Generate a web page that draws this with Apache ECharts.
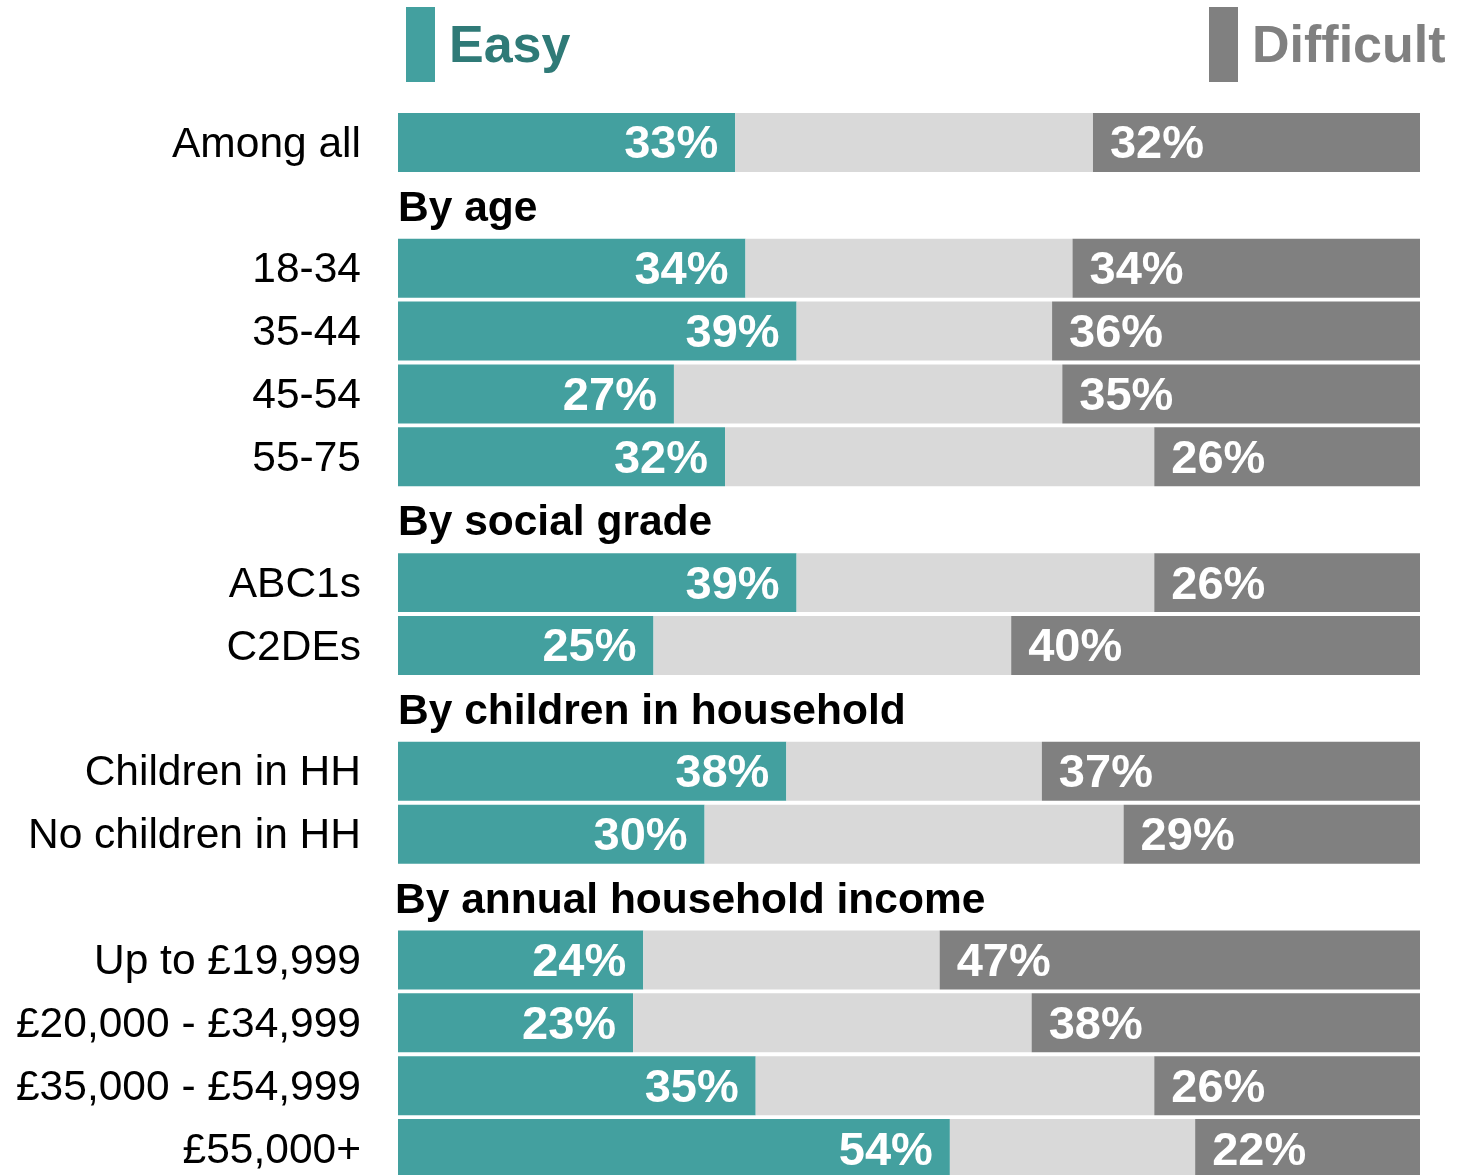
<!DOCTYPE html>
<html>
<head>
<meta charset="utf-8">
<script src="https://cdn.jsdelivr.net/npm/echarts@6/dist/echarts.min.js"></script>
<style>
html,body{margin:0;padding:0;background:#fff;}
#chart{width:1476px;height:1175px;}
</style>
</head>
<body>
<div id="chart"></div>
<script>
const categories = ['Among all','By age','18-34','35-44','45-54','55-75','By social grade','ABC1s','C2DEs','By children in household','Children in HH','No children in HH','By annual household income','Up to £19,999','£20,000 - £34,999','£35,000 - £54,999','£55,000+'];
const headers = ['By age','By social grade','By children in household','By annual household income'];
const easy = [33,null,34,39,27,32,null,39,25,null,38,30,null,24,23,35,54];
const difficult = [32,null,34,36,35,26,null,26,40,null,37,29,null,47,38,26,22];
const neutral = easy.map((e,i) => e == null ? null : 100 - e - difficult[i]);

const FONT = "'Liberation Sans', Arial, sans-serif";
const TEAL = '#43a09f';
const DARK = '#808080';
const LIGHT = '#d9d9d9';

const chart = echarts.init(document.getElementById('chart'), null, {renderer:'canvas'});
const valLabel = {
  show: true,
  color: '#ffffff',
  fontFamily: FONT,
  fontWeight: 'bold',
  fontSize: 47,
  distance: 17,
  offset: [0, 3],
  formatter: p => p.value == null ? '' : p.value + '%'
};
const headerLabel = {
  show: true, position: 'right', distance: 0,
  fontFamily: FONT, fontWeight: 'bold', fontSize: 42.5, color: '#000000',
  textBorderWidth: 0
};
const legendText = {fontFamily: FONT, fontWeight: 'bold', fontSize: 52, padding: 0};
chart.setOption({
  animation: false,
  grid: {left: 398, right: 56, top: 111, height: 1069, containLabel: false, outerBoundsMode: 'none'},
  legend: [
    {data: ['Easy'], left: 406, top: 7, padding: 0, icon: 'rect', itemWidth: 29, itemHeight: 75,
     formatter: n => '{t|' + n + '}',
     textStyle: Object.assign({color: '#2f7a77', rich: {t: Object.assign({color: '#2f7a77'}, legendText, {padding: [7,0,0,9]})}}, legendText),
     selectedMode: false},
    {data: ['Difficult'], left: 1209, top: 7, padding: 0, icon: 'rect', itemWidth: 29, itemHeight: 75,
     formatter: n => '{t|' + n + '}',
     textStyle: Object.assign({color: '#808080', rich: {t: Object.assign({color: '#808080'}, legendText, {padding: [7,0,0,9]})}}, legendText),
     selectedMode: false}
  ],
  xAxis: {type: 'value', min: 0, max: 100, show: false},
  yAxis: {
    type: 'category', data: categories, inverse: true,
    axisLine: {show: false}, axisTick: {show: false}, splitLine: {show: false},
    axisLabel: {
      margin: 37, fontFamily: FONT, fontSize: 42.5, color: '#000000',
      formatter: v => headers.includes(v) ? '' : '{c|' + v + '}',
      rich: {c: {fontFamily: FONT, fontSize: 42.5, color: '#000000', padding: [5,0,0,0]}}
    }
  },
  series: [
    {name: 'Easy', type: 'bar', stack: 'a', data: easy, barCategoryGap: '6.2%', itemStyle: {color: TEAL},
     label: Object.assign({position: 'insideRight'}, valLabel)},
    {name: 'Neutral', type: 'bar', stack: 'a', data: neutral, itemStyle: {color: LIGHT}, silent: true},
    {name: 'Difficult', type: 'bar', stack: 'a', data: difficult, itemStyle: {color: DARK},
     label: Object.assign({position: 'insideLeft'}, valLabel)},
    {name: 'Headers', type: 'scatter', symbolSize: 0, silent: true,
     itemStyle: {color: '#000000', opacity: 1},
     data: headers.map((h, i) => ({value: [0, h],
       label: Object.assign({}, headerLabel, {offset: [i === 3 ? -3 : 0, 4]})})),
     label: Object.assign({formatter: p => p.value[1]}, headerLabel)}
  ]
});
</script>
</body>
</html>
